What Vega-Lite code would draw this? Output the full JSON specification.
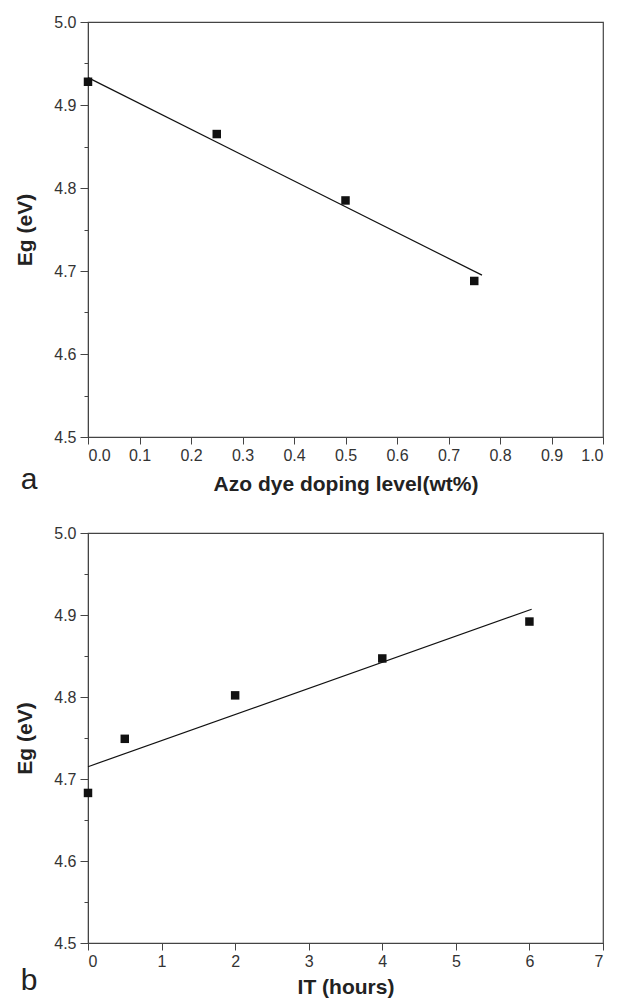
{
  "$schema": "https://vega.github.io/schema/vega-lite/v6.json",
  "background": "white",
  "padding": {"left": 14, "top": 13, "right": 10, "bottom": 0},
  "config": {
    "font": "Liberation Sans",
    "view": {"stroke": "#444", "strokeWidth": 1.2},
    "axis": {
      "grid": false,
      "domainColor": "#444",
      "tickColor": "#444",
      "labelColor": "#333",
      "labelFont": "Liberation Sans",
      "labelFontSize": 16,
      "titleFont": "Liberation Sans",
      "titleFontSize": 21,
      "titleFontWeight": "bold",
      "titleColor": "#222"
    },
    "title": {"font": "Liberation Sans", "fontSize": 30, "fontWeight": "normal", "color": "#222"}
  },
  "datasets": {
    "a_pts": [
      {"x": 0.0, "y": 4.928},
      {"x": 0.25, "y": 4.865},
      {"x": 0.5, "y": 4.785},
      {"x": 0.75, "y": 4.688}
    ],
    "a_fit": [
      {"x": 0.0, "y": 4.933},
      {"x": 0.765, "y": 4.695}
    ],
    "b_pts": [
      {"x": 0, "y": 4.683},
      {"x": 0.5, "y": 4.749},
      {"x": 2, "y": 4.802},
      {"x": 4, "y": 4.847},
      {"x": 6, "y": 4.892}
    ],
    "b_fit": [
      {"x": 0, "y": 4.715},
      {"x": 6.03, "y": 4.907}
    ]
  },
  "vconcat": [
    {
      "width": 515,
      "height": 415,
      "title": {"text": "a", "orient": "bottom", "anchor": "start", "frame": "bounds", "offset": -29, "dx": 6},
      "layer": [
        {
          "data": {"name": "a_fit"},
          "mark": {"type": "line", "color": "#111", "strokeWidth": 1.2},
          "encoding": {
            "x": {"field": "x", "type": "quantitative", "scale": {"domain": [0, 1]},
              "axis": {"title": "Azo dye doping level(wt%)", "values": [0,0.05,0.1,0.15,0.2,0.25,0.3,0.35,0.4,0.45,0.5,0.55,0.6,0.65,0.7,0.75,0.8,0.85,0.9,0.95,1.0],
                "labelExpr": "(round(datum.value*100) % 10 == 0) ? format(datum.value, '.1f') : ''",
                "tickSize": {"expr": "(round(datum.value*100) % 10 == 0) ? 7 : 4"},
                "titlePadding": 10, "labelPadding": 3}},
            "y": {"field": "y", "type": "quantitative", "scale": {"domain": [4.5, 5.0]},
              "axis": {"title": "Eg (eV)", "values": [4.5,4.55,4.6,4.65,4.7,4.75,4.8,4.85,4.9,4.95,5.0],
                "labelExpr": "(round(datum.value*100) % 10 == 0) ? format(datum.value, '.1f') : ''",
                "tickSize": {"expr": "(round(datum.value*100) % 10 == 0) ? 8 : 4"},
                "labelPadding": 4, "titlePadding": 18}}
          }
        },
        {
          "data": {"name": "a_pts"},
          "mark": {"type": "square", "color": "#111", "opacity": 1, "size": 72},
          "encoding": {
            "x": {"field": "x", "type": "quantitative"},
            "y": {"field": "y", "type": "quantitative"}
          }
        }
      ]
    },
    {
      "width": 515,
      "height": 410,
      "title": {"text": "b", "orient": "bottom", "anchor": "start", "frame": "bounds", "offset": -31, "dx": 6},
      "layer": [
        {
          "data": {"name": "b_fit"},
          "mark": {"type": "line", "color": "#111", "strokeWidth": 1.2},
          "encoding": {
            "x": {"field": "x", "type": "quantitative", "scale": {"domain": [0, 7]},
              "axis": {"title": "IT (hours)", "values": [0,0.5,1,1.5,2,2.5,3,3.5,4,4.5,5,5.5,6,6.5,7],
                "labelExpr": "(datum.value % 1 == 0) ? format(datum.value, 'd') : ''",
                "tickSize": {"expr": "(datum.value % 1 == 0) ? 7 : 4"},
                "titlePadding": 7, "labelPadding": 3}},
            "y": {"field": "y", "type": "quantitative", "scale": {"domain": [4.5, 5.0]},
              "axis": {"title": "Eg (eV)", "values": [4.5,4.55,4.6,4.65,4.7,4.75,4.8,4.85,4.9,4.95,5.0],
                "labelExpr": "(round(datum.value*100) % 10 == 0) ? format(datum.value, '.1f') : ''",
                "tickSize": {"expr": "(round(datum.value*100) % 10 == 0) ? 8 : 4"},
                "labelPadding": 4, "titlePadding": 18}}
          }
        },
        {
          "data": {"name": "b_pts"},
          "mark": {"type": "square", "color": "#111", "opacity": 1, "size": 72},
          "encoding": {
            "x": {"field": "x", "type": "quantitative"},
            "y": {"field": "y", "type": "quantitative"}
          }
        }
      ]
    }
  ],
  "spacing": 28
}
